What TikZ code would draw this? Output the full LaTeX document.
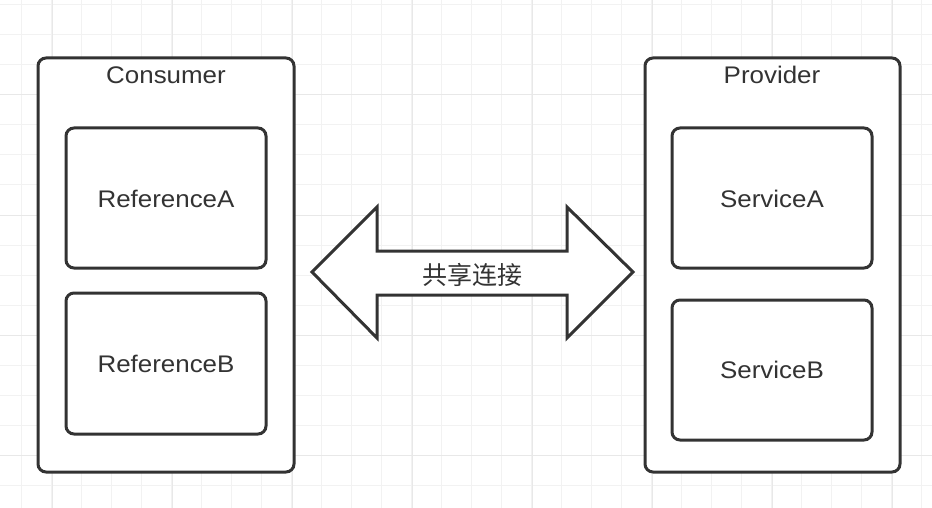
\documentclass[tikz,border=0pt]{standalone}
\usepackage{fontspec}
\setmainfont[FakeStretch=1.08]{Liberation Sans}
\newfontfamily\cjk{Noto Sans CJK SC}
\definecolor{gridminor}{HTML}{F2F2F2}
\definecolor{gridmajor}{HTML}{E8E8E8}
\definecolor{ink}{HTML}{333333}
\begin{document}
\begin{tikzpicture}[x=1pt,y=-1pt,
  box/.style={draw=ink,line width=3pt,rounded corners=8pt,fill=white},
  lbl/.style={text=ink,font=\fontsize{24}{28}\selectfont,inner sep=0pt},
  cjklbl/.style={text=ink,font=\cjk\fontsize{25}{29}\selectfont,inner sep=0pt}]
\useasboundingbox (0,0) rectangle (932,508);
\fill[white] (0,0) rectangle (932,508);
% grid
\foreach \i in {0,...,30} {
  \draw[gridminor,line width=1pt] ({21+30*\i},0) -- ({21+30*\i},508);
}
\foreach \j in {0,...,16} {
  \draw[gridminor,line width=1pt] (0,{5+30*\j}) -- (932,{5+30*\j});
}
\foreach \i in {0,...,7} {
  \draw[gridmajor,line width=1pt] ({52+120*\i},0) -- ({52+120*\i},508);
}
\foreach \j in {0,...,3} {
  \draw[gridmajor,line width=1pt] (0,{95+120*\j}) -- (932,{95+120*\j});
}
% consumer
\draw[box] (38,58) rectangle (294,472);
\node[lbl] (consumer) at (166,75) {Consumer};
\draw[box] (66,128) rectangle (266,268);
\node[lbl] (refA) at (166,198.5) {ReferenceA};
\draw[box] (66,293) rectangle (266,434);
\node[lbl] (refB) at (166,364) {ReferenceB};
% provider
\draw[box] (645,58) rectangle (900,472);
\node[lbl] (provider) at (772,75) {Provider};
\draw[box] (672,128) rectangle (872,268);
\node[lbl] (servA) at (772,198.5) {ServiceA};
\draw[box] (672,300) rectangle (872,440);
\node[lbl] (servB) at (772,370) {ServiceB};
% double arrow
\draw[draw=ink,line width=3pt,fill=white,line join=miter]
  (312,272) -- (377,207) -- (377,251) -- (567,251) -- (567,207) -- (633,272)
  -- (567,338) -- (567,295) -- (377,295) -- (377,338) -- cycle;
\node[cjklbl] (share) at (472,275) {共享连接};
\end{tikzpicture}
\end{document}
